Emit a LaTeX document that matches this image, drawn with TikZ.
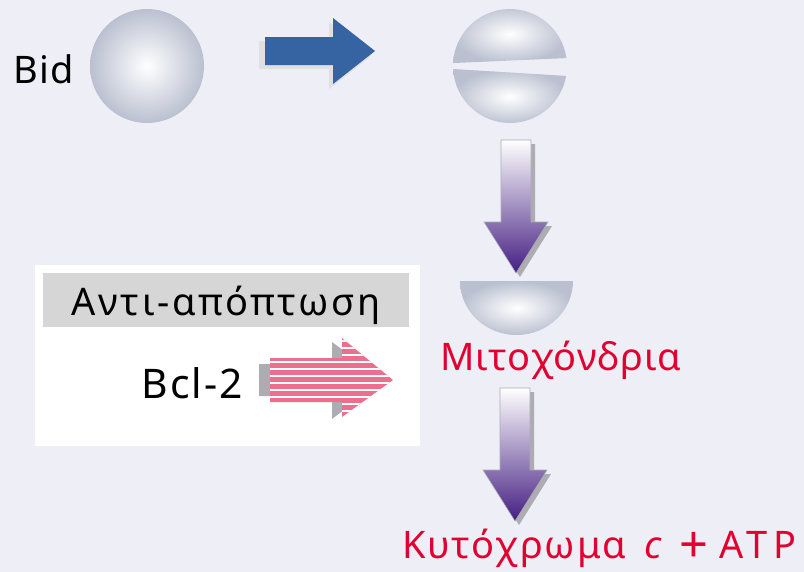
\documentclass[tikz,border=0pt]{standalone}
\usepackage{fontspec}
\setmainfont{Noto Sans}

\definecolor{paper}{RGB}{238,238,246}
\definecolor{spheregrey}{RGB}{186,192,208}
\definecolor{bidblue}{RGB}{54,100,162}
\definecolor{deeppurple}{RGB}{68,30,130}
\definecolor{midpurple}{RGB}{178,158,212}
\definecolor{arrowshadow}{RGB}{172,172,178}
\definecolor{barpink}{RGB}{236,112,142}
\definecolor{bargrey}{RGB}{214,214,214}
\definecolor{mitored}{RGB}{226,0,48}

\newcommand{\spaced}[1]{\addfontfeature{LetterSpace=#1}}
\newcommand{\bigplus}{{\fontsize{36}{36}\selectfont\raisebox{-3pt}{+}}}

\tikzset{
  txt/.style = {font = \fontsize{27}{32}\selectfont, inner sep = 0pt},
  redtxt/.style = {txt, text = mitored},
  ball/.style = {inner color = white, outer color = spheregrey},
  % purple block arrow pointing down, origin at the middle of the shaft top
  darrow/.pic = {
    \fill[arrowshadow] (-11,4) -- (19,4) -- (19,86) -- (36,86) -- (4,137)
                       -- (-28,86) -- (-11,86) -- cycle;
    \shade[top color = white, middle color = midpurple, bottom color = deeppurple,
           draw = arrowshadow, line width = 0.4pt]
          (-15,0) -- (15,0) -- (15,82) -- (32,82) -- (0,133)
          -- (-32,82) -- (-15,82) -- cycle;
  }
}

\begin{document}
\begin{tikzpicture}[x = 0.025cm, y = -0.025cm]

\fill[paper] (0,0) rectangle (804,572);
\useasboundingbox (0,0) rectangle (804,572);

% Bid and the whole sphere
\node[txt, anchor = base west] (bid) at (13,83) {\spaced{4}Bid};
\shade[ball] (147,66) circle (57);

% blue arrow
\fill[black!12] (259,41) -- (329,41) -- (329,22) -- (371,56) -- (329,89)
                -- (329,69) -- (259,69) -- cycle;
\fill[bidblue] (265,37) -- (333,37) -- (333,18) -- (375,51) -- (333,84)
               -- (333,65) -- (265,65) -- cycle;

% split sphere
\shade[ball] (566.4,58.1) arc[start angle = -8, end angle = -177, radius = 57] -- cycle;
\shade[ball] (453.1,69) arc[start angle = 177, end angle = 10, radius = 57] -- cycle;

\pic at (516,140) {darrow};

% half of the mitochondrion
\shade[ball] (460,281) arc[start angle = 180, end angle = 0,
                           x radius = 56.5, y radius = 54] -- cycle;
\node[redtxt, anchor = base west] (mito) at (440,370) {\spaced{3}Μιτοχόνδρια};

\pic at (515,388) {darrow};

\node[redtxt, anchor = base west] (cyt) at (402,558)
  {\spaced{5}Κυτόχρωμα\hspace{0.48em}\textit{c}\hspace{0.42em}\bigplus\hspace{0.3em}{\spaced{14}ATP}};

% anti-apoptosis box
\fill[white] (35,265) rectangle (420,446);
\fill[bargrey] (43,273) rectangle (409,327);
\node[txt, anchor = base] (anti) at (226,315) {\spaced{7}Αντι-απόπτωση};
\node[txt, font = \fontsize{29}{34}\selectfont, anchor = base east] (bcl)
  at (243,398) {\spaced{5}Bcl-2};

% striped Bcl-2 arrow
\fill[arrowshadow] (259,364) -- (332,364) -- (332,342) -- (383,380)
                   -- (332,419) -- (332,396) -- (259,396) -- cycle;
\begin{scope}
  \clip (270,358) -- (342,358) -- (342,338) -- (393,380) -- (342,417)
        -- (342,402) -- (270,402) -- cycle;
  \fill[barpink] (260,330) rectangle (400,420);
  \foreach \y in {341,348,...,418}
    \draw[white, line width = 1.3pt] (260,\y) -- (400,\y);
\end{scope}

\end{tikzpicture}
\end{document}
